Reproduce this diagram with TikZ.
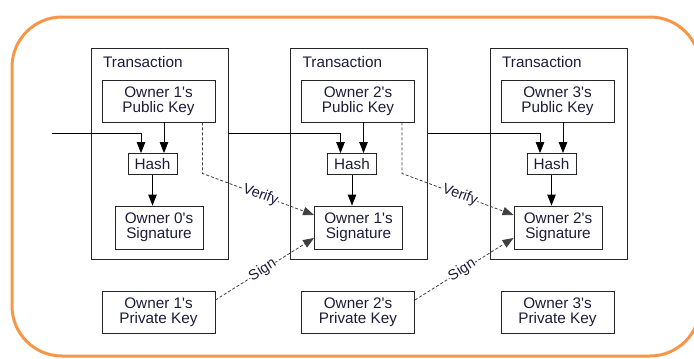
\documentclass[tikz,border=0pt]{standalone}
\usepackage{fontspec}
\setmainfont{Liberation Sans}
\usetikzlibrary{arrows.meta}
\definecolor{ringorange}{HTML}{F79646}
\definecolor{inkblue}{HTML}{1C1C3A}
\newcommand\owner[1]{Owner #1\textquotesingle s}
\tikzset{
  box/.style={draw=black!85, line width=0.9pt, inner sep=0pt, align=center,
    text=inkblue, font=\fontsize{15.3}{15}\selectfont},
  txbox/.style={draw=black!85, line width=0.9pt, inner sep=0pt,
    minimum width=137pt, minimum height=211pt},
  arr/.style={line width=0.9pt, -{Triangle[length=11pt,width=8.5pt]}},
  dashline/.style={line width=0.8pt, black!75, dash pattern=on 3pt off 2pt,
    -{Triangle[length=11pt,width=8.5pt]}},
  tag/.style={sloped, fill=white, inner sep=0.3pt, text=inkblue,
    font=\fontsize{14.5}{15}\selectfont}
}
\begin{document}
\begin{tikzpicture}[x=1pt,y=-1pt]
\useasboundingbox (0,0) rectangle (694,359);
\draw[ringorange, line width=3pt, rounded corners=50pt] (12,17) rectangle (700,356);

% one transaction per column
\foreach \i/\x in {1/0,2/199.5,3/399} {
  \pgfmathtruncatemacro\p{\i-1}
  \node[txbox] (tx\i) at (159.5+\x,153.5) {};
  \node[anchor=west, text=inkblue, font=\fontsize{15.3}{15}\selectfont, inner sep=0pt]
    (title\i) at (103+\x,62) {Transaction};
  \node[box, minimum width=113pt, minimum height=42pt] (pub\i) at (158.5+\x,101) {\owner{\i}\\Public Key};
  \node[box, minimum width=49pt, minimum height=21pt] (hash\i) at (152.5+\x,164) {Hash};
  \node[box, minimum width=88pt, minimum height=43pt] (sig\i) at (159+\x,227.5) {\owner{\p}\\Signature};
  \node[box, minimum width=113pt, minimum height=42pt] (priv\i) at (158.5+\x,312) {\owner{\i}\\Private Key};
  \coordinate (keyin\i) at ([xshift=11.5pt]hash\i.north);
  \coordinate (chainin\i) at ([xshift=-11.5pt]hash\i.north);
  \draw[arr] (pub\i.south -| keyin\i) -- (keyin\i);
  \draw[arr] (hash\i.south) -- (hash\i.south |- sig\i.north);
}

% hash chain and signatures
\coordinate (feed) at (52,133);
\draw[arr] (feed) -| (chainin1);
\foreach \i in {2,3} {
  \pgfmathtruncatemacro\p{\i-1}
  \draw[arr] (tx\p.east |- feed) -| (chainin\i);
  \draw[dashline] ([xshift=-13pt]pub\p.south east) -- ++(0,51)
    -- node[tag, pos=0.52] {Verify} ([yshift=12.5pt]sig\i.west);
  \draw[dashline] ([yshift=12pt]priv\p.east)
    -- node[tag, pos=0.48] {Sign} ([yshift=-10.5pt]sig\i.west);
}
\end{tikzpicture}
\end{document}
